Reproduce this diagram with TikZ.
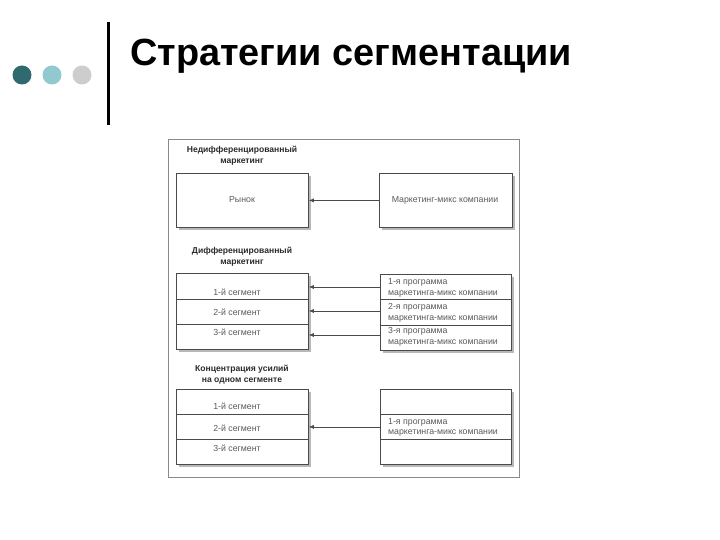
\documentclass[tikz,border=0pt]{standalone}
\usepackage{fontspec}
\setmainfont{Liberation Sans}
\usetikzlibrary{arrows.meta,shadows}
\definecolor{dotdark}{HTML}{2F6B6E}
\definecolor{dotlight}{HTML}{92C9D1}
\definecolor{dotgrey}{HTML}{CDCDCD}
\definecolor{boxline}{HTML}{4A4A4A}
\definecolor{framec}{HTML}{8A8A8A}
\definecolor{shadowc}{HTML}{B8B8B8}
\definecolor{txtc}{HTML}{5A5A5A}
\definecolor{headc}{HTML}{2A2A2A}
\tikzset{
  dotnode/.style={circle, inner sep=0pt, minimum size=19bp},
  rowbox/.style={draw=boxline, fill=white, line width=0.8bp, inner sep=0pt,
    minimum width=132bp, anchor=north west,
    drop shadow={shadow xshift=2.5bp, shadow yshift=-2.5bp, fill=shadowc, opacity=1}},
  bodytxt/.style={font=\fontsize{8.8}{10}\selectfont, text=txtc, inner sep=0pt},
  progtxt/.style={bodytxt, anchor=west},
  headtxt/.style={font=\fontsize{8.6}{11}\selectfont\bfseries, text=headc, align=center, inner sep=0pt},
  arr/.style={draw=boxline, line width=0.6bp, -{Latex[length=5bp,width=4bp]}}
}
\begin{document}
\begin{tikzpicture}[x=1bp,y=-1bp]
\useasboundingbox (0,0) rectangle (720,540);
% header decoration
\node[dotnode, fill=dotdark] (d1) at (22,75) {};
\node[dotnode, fill=dotlight] (d2) at (52,75) {};
\node[dotnode, fill=dotgrey] (d3) at (82,75) {};
\draw[line width=3bp] (108,22) -- (108,125);
\node[font=\fontsize{38}{40}\selectfont\bfseries, anchor=base west, inner sep=0pt] (title) at (130,66) {Стратегии сегментации};
% outer frame
\draw[framec, line width=1bp] (168,140) rectangle (519,477);
% section 1
\node[headtxt] (h1) at (242,156) {Недифференцированный\\маркетинг};
\node[rowbox, minimum height=54bp] (market) at (176,173) {};
\node[bodytxt] (market-t) at (242,200) {Рынок};
\node[rowbox, minimum height=54bp, minimum width=133bp] (mix) at (379,173) {};
\node[bodytxt] (mix-t) at (445,200) {Маркетинг-микс компании};
\draw[arr] (mix.west) -- (market.east);
% section 2
\node[headtxt] (h2) at (242,257) {Дифференцированный\\маркетинг};
\node[rowbox, minimum height=26bp] (s1) at (176,273) {};
\node[rowbox, minimum height=25bp] (s2) at (176,299) {};
\node[rowbox, minimum height=25bp] (s3) at (176,324) {};
\node[bodytxt] (s1-t) at (237,292) {1-й сегмент};
\node[bodytxt] (s2-t) at (237,312) {2-й сегмент};
\node[bodytxt] (s3-t) at (237,332) {3-й сегмент};
\node[rowbox, minimum height=25bp, minimum width=131bp] (p1) at (380,274) {};
\node[rowbox, minimum height=26bp, minimum width=131bp] (p2) at (380,299) {};
\node[rowbox, minimum height=25bp, minimum width=131bp] (p3) at (380,325) {};
\node[progtxt] (p1-a) at (388,282) {1-я программа};
\node[progtxt] (p1-b) at (388,294) {маркетинга-микс компании};
\node[progtxt] (p2-a) at (388,307) {2-я программа};
\node[progtxt] (p2-b) at (388,319) {маркетинга-микс компании};
\node[progtxt] (p3-a) at (388,331) {3-я программа};
\node[progtxt] (p3-b) at (388,343) {маркетинга-микс компании};
\draw[arr] (p1.west |- 0,287) coordinate (a1) -- (s1.east |- a1);
\draw[arr] (p2.west |- 0,311) coordinate (a2) -- (s2.east |- a2);
\draw[arr] (p3.west |- 0,335) coordinate (a3) -- (s3.east |- a3);
% section 3
\node[headtxt] (h3) at (242,375) {Концентрация усилий\\на одном сегменте};
\node[rowbox, minimum height=25bp] (c1) at (176,389) {};
\node[rowbox, minimum height=25bp] (c2) at (176,414) {};
\node[rowbox, minimum height=25bp] (c3) at (176,439) {};
\node[bodytxt] (c1-t) at (237,406) {1-й сегмент};
\node[bodytxt] (c2-t) at (237,428) {2-й сегмент};
\node[bodytxt] (c3-t) at (237,448) {3-й сегмент};
\node[rowbox, minimum height=25bp, minimum width=131bp] (q1) at (380,389) {};
\node[rowbox, minimum height=25bp, minimum width=131bp] (q2) at (380,414) {};
\node[rowbox, minimum height=25bp, minimum width=131bp] (q3) at (380,439) {};
\node[progtxt] (q2-a) at (388,422) {1-я программа};
\node[progtxt] (q2-b) at (388,433) {маркетинга-микс компании};
\draw[arr] (q2.west) -- (c2.east);
\end{tikzpicture}
\end{document}
